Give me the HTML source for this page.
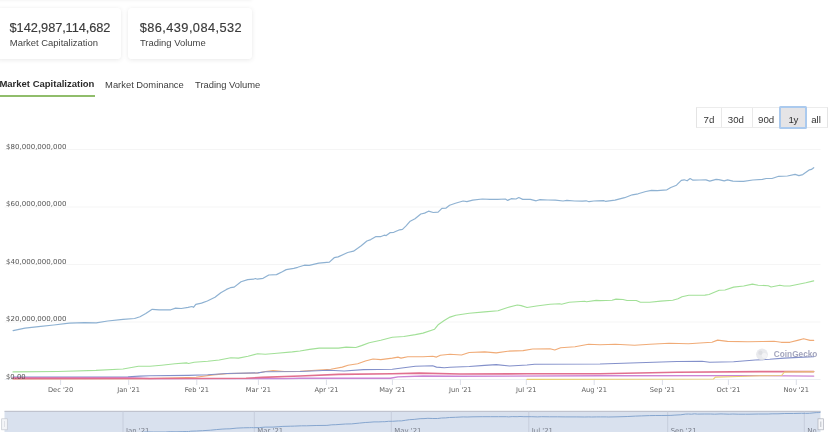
<!DOCTYPE html>
<html lang="en">
<head>
<meta charset="utf-8">
<title>Stablecoins Market Capitalization</title>
<style>
*{box-sizing:border-box;margin:0;padding:0}
html,body{width:832px;height:432px;overflow:hidden;background:#fff}
body{position:relative;font-family:"Liberation Sans",sans-serif;color:#3b3b3b}
.topshade{position:absolute;left:-4px;top:-7px;width:256px;height:7px;box-shadow:0 1px 3px rgba(0,0,0,.045)}
.card{position:absolute;top:8px;height:51px;background:#fff;border-radius:3px;box-shadow:0 1px 5px rgba(0,0,0,.085),0 0 1px rgba(0,0,0,.04)}
.card .v{position:absolute;left:0;top:0;white-space:nowrap;font-size:12.8px;line-height:13px;letter-spacing:-0.1px;color:#3a3a3a;-webkit-text-stroke:0.15px #3a3a3a;transform-origin:0 0}
.card .l{position:absolute;left:0;top:0;white-space:nowrap;font-size:9.45px;line-height:10px;color:#424242;transform-origin:0 0}
.tabs{position:absolute;left:0;top:0;width:832px;height:0}
.tab{position:absolute;white-space:nowrap;font-size:9.4px;line-height:10px;color:#3d3d3d;transform-origin:0 0}
.tab.on{font-weight:bold;color:#2b2b2b;font-size:9.5px}
.tabline{position:absolute;left:0;top:94.6px;width:94.8px;height:2px;background:#90bd6b}
.rng{position:absolute;left:696px;top:107px;height:21px;width:132px;border:1px solid #ececec;border-left-color:#e4e4e4;border-right-color:#e4e4e4;background:#fff}
.rng span{position:absolute;top:0;height:19px;border-left:1px solid #e9e9e9}
.rng b{position:absolute;font-weight:normal;font-size:9.7px;line-height:10px;top:7px;white-space:nowrap;color:#333;transform-origin:0 0}
.rng .sel{position:absolute;left:82.3px;top:-1.7px;width:27.9px;height:23px;background:#e5e4e6;border:2px solid #abcaee;border-radius:1.5px}
.chart{position:absolute;left:0;top:0}
.chart text{font-family:"DejaVu Sans","Liberation Sans",sans-serif}
.yl{font-size:6.9px;fill:#555}
.xl{font-size:6.7px;fill:#606060}
.nl{font-size:6.9px;fill:#777c88}
.wm{font-family:"Liberation Sans",sans-serif !important;font-weight:bold;font-size:8.2px;fill:#9496b2}
</style>
</head>
<body>
<div class="topshade"></div>
<div class="card" style="left:-3px;width:124px"><div class="v" id="v1" style="left:12.6px;top:12.7px">$142,987,114,682</div><div class="l" id="l1" style="left:12.8px;top:29.7px">Market Capitalization</div></div>
<div class="card" style="left:128px;width:123.5px"><div class="v" id="v2" style="left:11.7px;top:12.7px;letter-spacing:0.42px">$86,439,084,532</div><div class="l" id="l2" style="left:11.9px;top:29.7px">Trading Volume</div></div>
<div class="tabs">
<div class="tab on" id="t1" style="left:-0.6px;top:79.2px">Market Capitalization</div>
<div class="tab" id="t2" style="left:105.1px;top:79.7px">Market Dominance</div>
<div class="tab" id="t3" style="left:195.0px;top:79.7px">Trading Volume</div>
<div class="tabline"></div>
</div>
<svg class="chart" width="832" height="432" viewBox="0 0 832 432">
<line x1="4.5" x2="820.5" y1="149.5" y2="149.5" stroke="#f5f5f5" stroke-width="1"/>
<line x1="4.5" x2="820.5" y1="207.0" y2="207.0" stroke="#f5f5f5" stroke-width="1"/>
<line x1="4.5" x2="820.5" y1="264.5" y2="264.5" stroke="#f5f5f5" stroke-width="1"/>
<line x1="4.5" x2="820.5" y1="322.0" y2="322.0" stroke="#f5f5f5" stroke-width="1"/>
<line x1="4.5" x2="820.5" y1="379.5" y2="379.5" stroke="#eceef3" stroke-width="1"/>
<line x1="60.6" x2="60.6" y1="379.5" y2="385" stroke="#dcdfe8" stroke-width="1"/>
<line x1="128.7" x2="128.7" y1="379.5" y2="385" stroke="#dcdfe8" stroke-width="1"/>
<line x1="196.8" x2="196.8" y1="379.5" y2="385" stroke="#dcdfe8" stroke-width="1"/>
<line x1="258.4" x2="258.4" y1="379.5" y2="385" stroke="#dcdfe8" stroke-width="1"/>
<line x1="326.4" x2="326.4" y1="379.5" y2="385" stroke="#dcdfe8" stroke-width="1"/>
<line x1="392.4" x2="392.4" y1="379.5" y2="385" stroke="#dcdfe8" stroke-width="1"/>
<line x1="460.4" x2="460.4" y1="379.5" y2="385" stroke="#dcdfe8" stroke-width="1"/>
<line x1="526.3" x2="526.3" y1="379.5" y2="385" stroke="#dcdfe8" stroke-width="1"/>
<line x1="594.2" x2="594.2" y1="379.5" y2="385" stroke="#dcdfe8" stroke-width="1"/>
<line x1="662.4" x2="662.4" y1="379.5" y2="385" stroke="#dcdfe8" stroke-width="1"/>
<line x1="728.4" x2="728.4" y1="379.5" y2="385" stroke="#dcdfe8" stroke-width="1"/>
<line x1="796.3" x2="796.3" y1="379.5" y2="385" stroke="#dcdfe8" stroke-width="1"/>
<text x="60.6" y="391.8" class="xl" text-anchor="middle">Dec '20</text>
<text x="128.7" y="391.8" class="xl" text-anchor="middle">Jan '21</text>
<text x="196.8" y="391.8" class="xl" text-anchor="middle">Feb '21</text>
<text x="258.4" y="391.8" class="xl" text-anchor="middle">Mar '21</text>
<text x="326.4" y="391.8" class="xl" text-anchor="middle">Apr '21</text>
<text x="392.4" y="391.8" class="xl" text-anchor="middle">May '21</text>
<text x="460.4" y="391.8" class="xl" text-anchor="middle">Jun '21</text>
<text x="526.3" y="391.8" class="xl" text-anchor="middle">Jul '21</text>
<text x="594.2" y="391.8" class="xl" text-anchor="middle">Aug '21</text>
<text x="662.4" y="391.8" class="xl" text-anchor="middle">Sep '21</text>
<text x="728.4" y="391.8" class="xl" text-anchor="middle">Oct '21</text>
<text x="796.3" y="391.8" class="xl" text-anchor="middle">Nov '21</text>
<g fill="none" stroke-linejoin="round" stroke-linecap="round" opacity="0.93">
<path d="M13.0 378.9 L150.0 378.6 L196.0 377.2 L213.0 374.9 L227.0 373.6 L257.7 373.0 L265.4 371.5 L273.0 370.6 L284.6 371.5 L300.0 371.2 L315.4 370.2 L330.8 369.2 L342.3 367.1 L348.0 365.2 L357.7 363.8 L365.4 361.0 L373.0 359.0 L380.8 359.6 L392.3 358.1 L398.0 357.1 L401.0 358.1 L407.7 356.7 L423.0 356.7 L432.7 356.2 L436.5 357.1 L440.4 355.2 L450.0 354.3 L461.5 355.0 L469.2 352.5 L484.6 351.9 L496.2 352.9 L507.7 351.2 L523.0 350.6 L532.7 349.0 L550.0 348.7 L554.8 350.0 L560.6 347.7 L575.0 346.7 L588.5 344.2 L600.0 344.8 L615.4 344.2 L634.6 345.2 L650.0 344.2 L669.2 343.3 L688.5 343.8 L707.7 342.5 L712.0 342.3 L717.6 340.1 L727.5 341.4 L748.0 341.8 L762.5 341.5 L774.0 341.3 L781.2 342.3 L789.9 342.3 L798.5 340.1 L803.6 338.7 L810.0 340.4 L813.7 340.4" stroke="#efa56d" stroke-width="1.15"/>
<path d="M13.0 377.1 L100.0 377.0 L128.0 376.7 L140.0 376.1 L150.0 375.8 L188.5 375.4 L207.7 374.8 L227.0 373.5 L257.7 372.9 L265.4 371.8 L300.0 371.5 L328.8 370.2 L344.2 371.0 L363.5 369.6 L392.3 369.2 L403.8 367.7 L415.4 366.3 L432.7 365.8 L436.5 367.1 L444.2 367.7 L450.0 367.3 L469.2 366.5 L484.6 365.4 L496.2 364.6 L509.6 366.0 L527.0 365.0 L534.6 364.2 L600.0 364.0 L638.5 362.7 L677.0 361.5 L702.0 361.2 L709.6 362.3 L733.6 361.7 L755.3 360.0 L769.7 359.3 L784.1 358.1 L798.5 357.4 L813.7 356.7" stroke="#7a88c6" stroke-width="1.15"/>
<path d="M13.0 377.6 L128.0 377.7 L150.0 378.6 L284.6 378.6 L300.0 378.3 L390.4 378.3 L398.0 376.9 L423.0 376.0 L460.0 376.3 L600.0 375.8 L760.0 375.6 L813.7 376.1" stroke="#c87cd2" stroke-width="1.4"/>
<path d="M13.0 378.4 L150.0 378.5 L246.0 378.2 L262.0 377.4 L300.0 376.0 L338.5 374.4 L392.3 373.8 L419.2 373.1 L460.0 374.0 L527.0 373.8 L600.0 373.7 L677.0 372.3 L760.0 371.6 L813.7 371.6" stroke="#df6687" stroke-width="1.6"/>
<path d="M527.0 379.4 L713.5 379.0 L715.4 377.1 L738.5 376.5 L760.0 375.8 L781.5 375.5 L784.5 372.0 L813.7 371.7" stroke="#e8cb68" stroke-width="1.15"/>
<path d="M13.0 371.9 L57.7 371.5 L96.0 370.4 L123.0 369.0 L138.5 366.2 L150.0 366.2 L161.5 365.2 L175.0 363.8 L186.5 362.9 L188.5 363.5 L194.2 362.3 L207.7 361.3 L219.2 360.0 L230.8 357.7 L238.5 358.1 L248.0 356.2 L257.7 353.7 L265.4 354.2 L277.0 353.3 L292.3 351.9 L300.0 351.0 L309.6 349.4 L319.2 348.1 L338.5 348.1 L346.2 347.1 L355.8 347.5 L361.5 345.6 L369.2 342.7 L380.8 340.2 L392.3 337.3 L403.8 336.5 L415.4 334.6 L423.0 333.1 L434.6 329.2 L438.5 324.4 L444.2 320.6 L450.0 317.1 L455.8 315.2 L469.2 313.3 L484.6 311.9 L498.0 310.8 L507.7 307.5 L517.3 305.0 L521.2 305.6 L527.0 307.5 L536.5 306.0 L550.0 304.2 L559.6 303.7 L561.5 304.2 L569.2 302.3 L584.6 301.3 L586.5 301.7 L596.2 300.4 L600.0 300.6 L612.0 300.2 L616.0 299.1 L623.0 299.5 L627.0 300.5 L636.3 300.5 L640.4 302.2 L649.8 302.2 L660.6 301.1 L672.7 300.2 L678.0 298.8 L682.0 296.8 L688.8 295.2 L705.0 295.1 L709.0 294.5 L712.0 293.3 L719.2 290.3 L725.0 290.0 L733.6 287.1 L743.7 286.0 L752.4 284.1 L758.2 285.2 L768.3 285.7 L771.1 287.0 L779.8 285.2 L784.1 286.0 L789.9 286.0 L798.5 284.2 L805.8 282.8 L813.7 280.9" stroke="#9bde90" stroke-width="1.15"/>
<path d="M13.1 330.6 L25.0 328.1 L38.5 326.7 L53.8 325.0 L69.2 323.1 L84.6 322.7 L96.2 322.9 L107.7 321.0 L123.0 319.4 L134.6 318.5 L140.0 316.7 L145.8 313.5 L152.2 309.3 L159.2 309.8 L170.8 309.8 L175.6 308.1 L181.3 308.5 L188.1 307.3 L191.9 306.5 L193.5 307.3 L195.8 304.4 L201.5 303.1 L207.3 301.0 L215.0 297.3 L220.8 292.7 L226.5 289.4 L230.4 287.7 L234.2 287.1 L241.0 281.7 L247.7 279.6 L253.5 279.2 L255.4 278.5 L257.3 279.2 L263.1 278.3 L268.8 275.0 L276.5 274.6 L282.3 271.7 L286.2 269.6 L293.8 268.3 L297.7 267.3 L304.4 265.2 L309.2 265.4 L318.8 263.1 L329.4 262.1 L334.2 257.7 L338.1 256.9 L347.7 252.5 L353.5 251.2 L361.2 245.8 L366.9 241.0 L370.8 239.6 L375.6 236.7 L380.4 236.7 L384.2 235.2 L386.2 235.6 L390.0 232.7 L393.8 232.3 L399.6 229.8 L402.5 229.4 L406.3 225.6 L410.2 221.2 L415.0 218.8 L420.8 214.0 L424.6 213.1 L428.5 211.2 L433.3 212.5 L438.1 212.1 L441.9 208.4 L445.8 208.2 L449.6 205.3 L455.4 203.3 L463.1 201.0 L466.9 201.7 L472.7 200.2 L482.3 199.0 L490.0 199.4 L497.7 199.4 L505.4 199.0 L507.7 200.4 L511.2 198.7 L516.0 199.0 L518.8 197.5 L522.7 199.4 L530.4 199.4 L536.2 200.8 L540.0 199.6 L547.7 200.0 L555.4 200.2 L563.1 201.0 L566.9 200.4 L574.6 201.0 L582.3 201.2 L586.2 200.8 L589.0 201.7 L593.8 201.0 L597.7 200.8 L603.5 200.6 L605.4 201.3 L615.0 200.2 L624.6 197.7 L632.3 194.8 L638.1 193.8 L645.8 191.5 L651.5 190.4 L657.3 190.6 L666.9 189.8 L670.8 187.5 L676.5 185.2 L681.3 180.4 L684.2 179.8 L687.1 180.8 L690.1 178.5 L693.0 180.2 L699.6 180.0 L706.0 179.9 L709.8 181.1 L716.1 179.3 L718.8 179.6 L724.2 180.9 L727.6 179.9 L732.9 181.1 L740.0 181.3 L743.5 181.4 L752.8 180.0 L762.4 179.4 L766.2 178.5 L772.0 178.5 L778.7 176.3 L787.4 176.0 L795.1 174.4 L798.9 175.6 L802.8 174.6 L809.5 169.8 L811.4 169.4 L813.7 167.7" stroke="#86accf" stroke-width="1.2"/>
</g>
<text x="6" y="148.8" class="yl" textLength="60.5" lengthAdjust="spacingAndGlyphs">$80,000,000,000</text>
<text x="6" y="206.3" class="yl" textLength="60.5" lengthAdjust="spacingAndGlyphs">$60,000,000,000</text>
<text x="6" y="263.8" class="yl" textLength="60.5" lengthAdjust="spacingAndGlyphs">$40,000,000,000</text>
<text x="6" y="321.3" class="yl" textLength="60.5" lengthAdjust="spacingAndGlyphs">$20,000,000,000</text>
<text x="6" y="378.8" class="yl" textLength="19.6" lengthAdjust="spacingAndGlyphs">$0.00</text>
<g opacity="0.85"><circle cx="762" cy="354.3" r="5.9" fill="#e6e7eb"/><circle cx="760.4" cy="352.8" r="2.2" fill="#d8d9de"/><circle cx="764.4" cy="355.5" r="2.6" fill="#f2f2f4"/><text x="773.8" y="357" class="wm" textLength="43.6" lengthAdjust="spacingAndGlyphs">CoinGecko</text></g>
<clipPath id="navclip"><rect x="4.5" y="411" width="812" height="21"/></clipPath>
<rect x="4.5" y="411" width="816" height="22" fill="#d9e1ee"/>
<line x1="4.5" x2="820.5" y1="411.3" y2="411.3" stroke="#b9bcc6" stroke-width="1"/>
<line x1="123.0" x2="123.0" y1="411.5" y2="432" stroke="#c6cddc" stroke-width="1"/>
<text x="126.0" y="433.4" class="nl" clip-path="url(#navclip)">Jan '21</text>
<line x1="254.3" x2="254.3" y1="411.5" y2="432" stroke="#c6cddc" stroke-width="1"/>
<text x="257.3" y="433.4" class="nl" clip-path="url(#navclip)">Mar '21</text>
<line x1="391.3" x2="391.3" y1="411.5" y2="432" stroke="#c6cddc" stroke-width="1"/>
<text x="394.3" y="433.4" class="nl" clip-path="url(#navclip)">May '21</text>
<line x1="528.8" x2="528.8" y1="411.5" y2="432" stroke="#c6cddc" stroke-width="1"/>
<text x="531.8" y="433.4" class="nl" clip-path="url(#navclip)">Jul '21</text>
<line x1="667.7" x2="667.7" y1="411.5" y2="432" stroke="#c6cddc" stroke-width="1"/>
<text x="670.7" y="433.4" class="nl" clip-path="url(#navclip)">Sep '21</text>
<line x1="804.3" x2="804.3" y1="411.5" y2="432" stroke="#c6cddc" stroke-width="1"/>
<text x="807.3" y="433.4" class="nl" clip-path="url(#navclip)">Nov '21</text>
<path d="M4.6 434.8 L16.7 434.5 L30.5 434.3 L46.1 434.1 L61.8 433.8 L77.5 433.7 L89.3 433.8 L101.0 433.5 L116.6 433.3 L128.4 433.2 L133.9 432.9 L139.8 432.5 L146.4 431.9 L153.5 432.0 L165.3 432.0 L170.2 431.7 L176.0 431.8 L182.9 431.6 L186.8 431.5 L188.4 431.6 L190.8 431.2 L196.6 431.0 L202.5 430.7 L210.4 430.2 L216.3 429.6 L222.1 429.1 L226.1 428.9 L229.9 428.8 L236.9 428.1 L243.7 427.8 L249.6 427.7 L251.5 427.6 L253.5 427.7 L259.4 427.6 L265.2 427.1 L273.0 427.1 L278.9 426.7 L282.9 426.4 L290.7 426.2 L294.6 426.1 L301.5 425.8 L306.4 425.8 L316.1 425.5 L326.9 425.4 L331.8 424.8 L335.8 424.7 L345.6 424.0 L351.5 423.9 L359.4 423.1 L365.2 422.5 L369.1 422.3 L374.0 421.9 L378.9 421.9 L382.8 421.7 L384.8 421.7 L388.7 421.3 L392.6 421.3 L398.5 420.9 L401.4 420.9 L405.3 420.3 L409.3 419.7 L414.2 419.4 L420.1 418.7 L424.0 418.6 L427.9 418.3 L432.8 418.5 L437.7 418.5 L441.6 418.0 L445.6 417.9 L449.4 417.5 L455.4 417.3 L463.2 416.9 L467.1 417.0 L473.0 416.8 L482.8 416.7 L490.6 416.7 L498.5 416.7 L506.3 416.7 L508.7 416.9 L512.2 416.6 L517.1 416.7 L520.0 416.5 L523.9 416.7 L531.8 416.7 L537.7 416.9 L541.6 416.7 L549.4 416.8 L557.3 416.8 L565.1 416.9 L569.0 416.9 L576.8 416.9 L584.7 417.0 L588.7 416.9 L591.5 417.0 L596.4 416.9 L600.4 416.9 L606.3 416.9 L608.2 417.0 L618.0 416.8 L627.8 416.5 L635.6 416.1 L641.5 415.9 L649.4 415.6 L655.2 415.5 L661.1 415.5 L670.9 415.4 L674.9 415.1 L680.7 414.8 L685.6 414.1 L688.5 414.0 L691.5 414.2 L694.5 413.8 L697.5 414.1 L704.2 414.0 L710.7 414.0 L714.6 414.2 L721.0 413.9 L723.8 414.0 L729.3 414.2 L732.8 414.0 L738.2 414.2 L745.4 414.2 L749.0 414.2 L758.4 414.0 L768.2 414.0 L772.1 413.8 L778.0 413.8 L784.8 413.5 L793.7 413.5 L801.5 413.3 L805.4 413.4 L809.4 413.3 L816.2 412.6 L818.2 412.6 L820.5 412.3" fill="none" stroke="#86a6cf" stroke-width="1"/>
<rect x="1.7" y="418.8" width="5.6" height="11" fill="#f4f5f8" stroke="#c3c7cf" stroke-width="0.7"/><line x1="4.5" x2="4.5" y1="421.5" y2="427" stroke="#b9bdc6" stroke-width="0.7" stroke-dasharray="1 1"/>
<rect x="818" y="418.8" width="5.6" height="11" fill="#f4f5f8" stroke="#aeb2bb" stroke-width="0.7"/><line x1="820.8" x2="820.8" y1="421.5" y2="427" stroke="#a5a9b3" stroke-width="0.7"/>
</svg>
<div class="rng">
<span style="left:23.5px"></span><span style="left:54.5px"></span>
<div class="sel"></div>
<b id="r1" style="left:6.6px">7d</b><b id="r2" style="left:30.8px">30d</b><b id="r3" style="left:61.1px">90d</b><b id="r4" style="left:91.4px;letter-spacing:-0.4px">1y</b><b id="r5" style="left:114.2px">all</b>
</div>
</body>
</html>
